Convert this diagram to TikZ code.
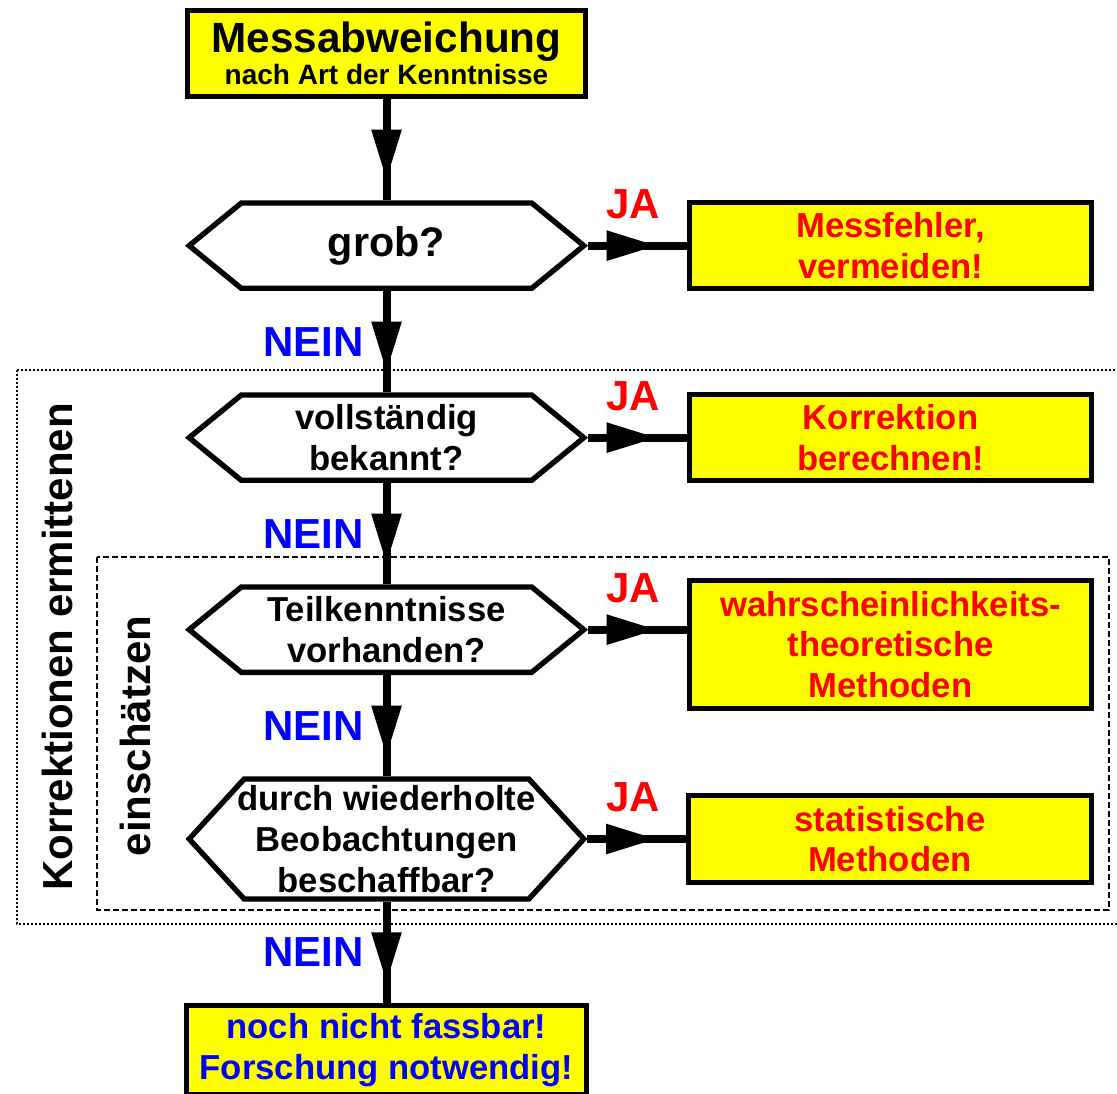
\documentclass[tikz,border=0pt]{standalone}
\usepackage{fontspec}
\setmainfont{Liberation Sans}
\usepackage{tikz}
\usetikzlibrary{arrows.meta, positioning, shapes.symbols, decorations.markings}
\definecolor{boxyellow}{HTML}{FFFF00}
\definecolor{jared}{HTML}{FF0000}
\definecolor{neinblue}{HTML}{0000FF}

\begin{document}
\begin{tikzpicture}[
  x=0.75pt, y=-0.75pt,
  node distance=76pt and 74pt,
  every node/.style={font=\bfseries\fontsize{26}{30.5}\selectfont, align=center},
  yellowbox/.style={rectangle, draw=black, line width=3.75pt, fill=boxyellow,
              minimum width=299pt, minimum height=#1, inner sep=0pt},
  answer/.style={yellowbox=#1, text=jared, minimum width=302pt},
  question/.style={signal, signal to=east and west, signal pointer angle=#1,
              draw=black, line width=4pt, fill=white, minimum width=296pt,
              minimum height=64pt, inner sep=0pt},
  flow/.style={line width=6pt, decoration={markings,
              mark=at position #1 with {\arrow{Triangle[length=37pt, width=23pt, line width=0pt]}}},
              postaction={decorate}},
  jalabel/.style={text=jared, font=\bfseries\fontsize{31.5}{36}\selectfont, inner sep=0pt},
  neinlabel/.style={text=neinblue, font=\bfseries\fontsize{31.5}{36}\selectfont, inner sep=0pt},
  sidelabel/.style={rotate=90, font=\bfseries\fontsize{31.5}{36}\selectfont, inner sep=0pt},
]
  \useasboundingbox (0,0) rectangle (1117,1094);

  % frames first, the arrows run over them
  \draw[line width=1.5pt, dash pattern=on 1.5pt off 1.5pt] (17,370) rectangle (1140,924);
  \draw[line width=2.2pt, dash pattern=on 4.5pt off 2.25pt] (97,557) rectangle (1109,910);
  \node[sidelabel] (ermitteln) at (57,647) {Korrektionen ermittenen};
  \node[sidelabel] (einschaetzen) at (135,736) {einschätzen};

  % main column
  \node[yellowbox=64.5pt, font=\bfseries\fontsize{31.7}{36}\selectfont] (kopf) at (386.5,53.5)
    {Messabweichung\\[-12pt]{\fontsize{21}{24}\selectfont nach Art der Kenntnisse}};
  \node[question=78.6, font=\bfseries\fontsize{31}{36}\selectfont, below=of kopf] (grob) {grob?};
  \node[question=78.6, below=of grob] (bekannt) {vollständig\\bekannt?};
  \node[question=78.6, below=of bekannt] (teil) {Teilkenntnisse\\vorhanden?};
  \node[question=95, minimum height=90pt, below=of teil] (wiederholt)
    {\makebox[200pt]{durch wiederholte}\\\makebox[200pt]{Beobachtungen}\\beschaffbar?};
  \node[yellowbox=67pt, minimum width=300pt, text=neinblue, below=of wiederholt] (forschung)
    {noch nicht fassbar!\\Forschung notwendig!};

  % answers
  \node[answer=64pt, right=of grob] (messfehler) {Messfehler,\\vermeiden!};
  \node[answer=65pt, right=of bekannt] (korrektion) {Korrektion\\berechnen!};
  \node[answer=96pt, right=of teil, yshift=-11pt] (methoden)
    {wahrscheinlichkeits-\\theoretische\\Methoden};
  \node[answer=65pt, right=of wiederholt] (statistik) {statistische\\Methoden};

  \draw[flow=-16pt] (kopf.south) -- (grob.north);
  \draw[flow=-16pt] (grob.south) -- node[neinlabel, left=14pt] (nein1) {NEIN} (bekannt.north);
  \draw[flow=-16pt] (bekannt.south) -- node[neinlabel, left=14pt] (nein2) {NEIN} (teil.north);
  \draw[flow=-16pt] (teil.south) -- node[neinlabel, left=14pt] (nein3) {NEIN} (wiederholt.north);
  \draw[flow=-16pt] (wiederholt.south) -- node[neinlabel, left=14pt] (nein4) {NEIN} (forschung.north);

  \draw[flow=-23pt] (grob.east) -- node[jalabel, above=17pt, pos=0.46] (ja1) {JA} (messfehler.west);
  \draw[flow=-23pt] (bekannt.east) -- node[jalabel, above=17pt, pos=0.46] (ja2) {JA} (korrektion.west);
  \draw[flow=-23pt] (teil.east) -- node[jalabel, above=17pt, pos=0.46] (ja3) {JA} (teil.east -| methoden.west);
  \draw[flow=-23pt] (wiederholt.east) -- node[jalabel, above=17pt, pos=0.46] (ja4) {JA} (statistik.west);
\end{tikzpicture}
\end{document}
